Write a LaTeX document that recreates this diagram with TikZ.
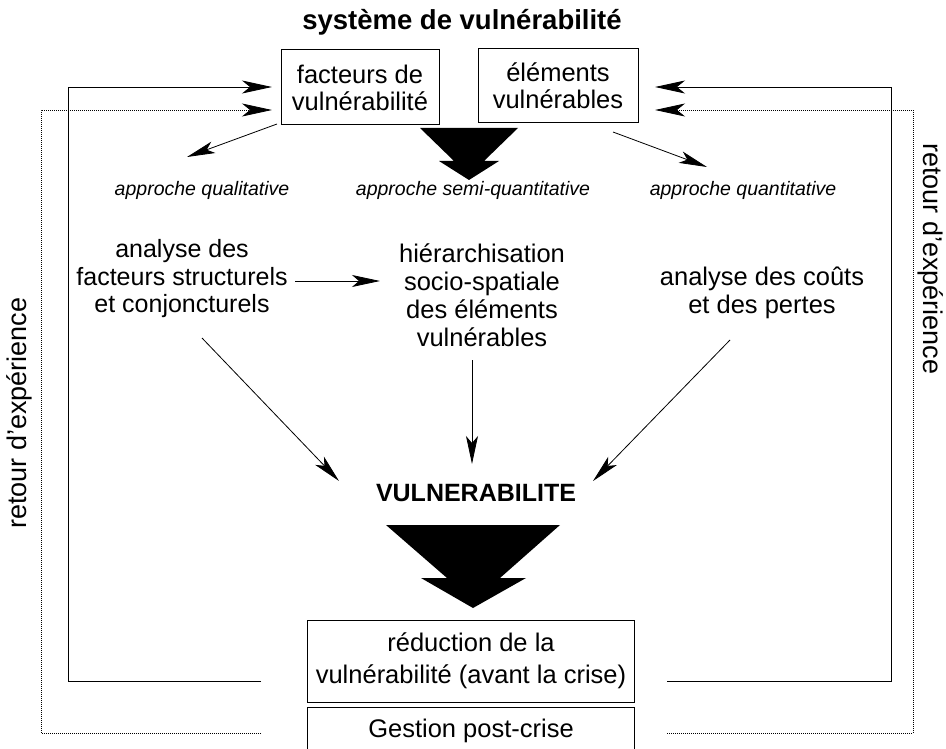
\documentclass[tikz,border=0pt]{standalone}
\usepackage{fontspec}
\setmainfont{Liberation Sans}
\usetikzlibrary{arrows.meta}
\begin{document}
\begin{tikzpicture}[x=1pt,y=-1pt,
  every node/.style={inner sep=0pt,outer sep=0pt},
  box/.style={draw,line width=1pt,align=center,font=\fontsize{25.5}{27}\selectfont},
  midtext/.style={align=center,font=\fontsize{25}{27.5}\selectfont},
  approche/.style={font=\itshape\fontsize{19.5}{22}\selectfont},
  side/.style={font=\fontsize{27}{30}\selectfont},
  arr/.style={line width=0.8pt,-{Stealth[length=28pt,width=12pt,inset=7pt]}},
  feed/.style={line width=0.9pt,-{Stealth[length=30pt,width=13pt,inset=8pt]}},
  feeddot/.style={line width=0.8pt,dash pattern=on 1pt off 1pt,-{Stealth[length=30pt,width=13pt,inset=8pt]}},
  bigarrow/.style={fill=black,draw=none}
]
\useasboundingbox (0,0) rectangle (946,749);
\clip (0,0) rectangle (946,749);

% title
\node[font=\bfseries\fontsize{27.5}{30}\selectfont] (T) at (462,22) {système de vulnérabilité};

% top boxes
\node[box,minimum width=158pt,minimum height=75pt] (F) at (360,87.5) {facteurs de\\vulnérabilité};
\node[box,minimum width=160pt,minimum height=74pt] (E) at (558,86) {éléments\\vulnérables};

% top block arrow
\fill[bigarrow] (420,128) -- (518,128) -- (484,161) -- (499,161) -- (469,180) -- (439,161) -- (454,161) -- cycle;

% approach labels
\node[approche] (Q1) at (202,190) {approche qualitative};
\node[approche] (Q2) at (473,190) {approche semi-quantitative};
\node[approche] (Q3) at (743,190) {approche quantitative};

\coordinate (f1) at (277,124);
\coordinate (q1) at (187,157);
\coordinate (e1) at (613,132);
\coordinate (q3) at (707,167);
\draw[arr] (f1) -- (q1);
\draw[arr] (e1) -- (q3);

% middle texts
\node[midtext] (A) at (182,279) {analyse des\\facteurs structurels\\et conjoncturels};
\node[midtext,font=\fontsize{25.5}{28}\selectfont] (H) at (482,295) {hiérarchisation\\socio-spatiale\\des éléments\\vulnérables};
\node[midtext,font=\fontsize{25.5}{28}\selectfont] (C) at (762,293) {analyse des coûts\\et des pertes};

\coordinate (a1) at (295,281);
\coordinate (h1) at (380,281);
\draw[arr] (a1) -- (h1);

% vulnerabilite
\node[font=\bfseries\fontsize{25}{27}\selectfont] (V) at (476,493) {VULNERABILITE};

\coordinate (a2) at (202,338);
\coordinate (v1) at (339,481);
\coordinate (h2) at (472,360);
\coordinate (v2) at (472,464);
\coordinate (c2) at (730,340);
\coordinate (v3) at (593,481);
\draw[arr] (a2) -- (v1);
\draw[arr] (h2) -- (v2);
\draw[arr] (c2) -- (v3);

% bottom block arrow
\fill[bigarrow] (386,525) -- (560,525) -- (500,578) -- (526,578) -- (473,608) -- (421,578) -- (447,578) -- cycle;

% bottom boxes
\node[box,minimum width=327pt,minimum height=82pt,font=\fontsize{25.5}{32}\selectfont] (R) at (471,661) {réduction de la\\vulnérabilité (avant la crise)};
\draw[line width=1pt] (R.south west |- 0,707) rectangle (R.east |- 0,760);
\node[font=\fontsize{25.5}{30}\selectfont] (G) at (471,731) {Gestion post-crise};

% feedback loops
\coordinate (sl) at (261,681);
\coordinate (sr) at (667,681);
\coordinate (dl) at (261,733);
\coordinate (dr) at (667,733);
\coordinate (ftop) at (272,87);
\coordinate (fbot) at (272,110);
\coordinate (etop) at (655,87);
\coordinate (ebot) at (655,110);
\draw[feed] (sl) -- (68,681) -- (68,87) -- (ftop);
\draw[feeddot] (dl) -- (41,733) -- (41,110) -- (fbot);
\draw[feed] (sr) -- (891,681) -- (891,87) -- (etop);
\draw[feeddot] (dr) -- (913,733) -- (913,110) -- (ebot);

% side labels
\node[side,rotate=90] (L1) at (19,413) {retour d'expérience};
\node[side,rotate=-90] (L2) at (931,259) {retour d'expérience};
\end{tikzpicture}
\end{document}
